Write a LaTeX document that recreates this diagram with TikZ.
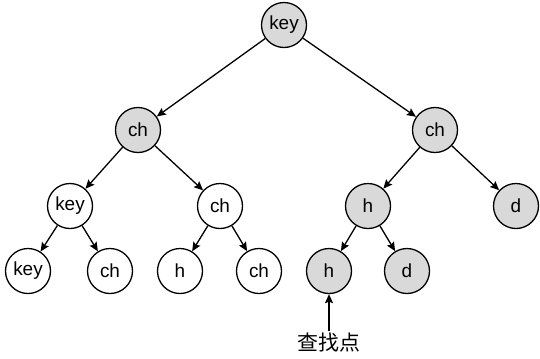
\documentclass[tikz,border=0pt]{standalone}
\usepackage{fontspec}
\setmainfont{Liberation Sans}
\newfontfamily\cjk{Noto Sans CJK SC}
\usetikzlibrary{arrows.meta}
\definecolor{hit}{HTML}{D9D9D9}
\tikzset{
  nd/.style={draw,line width=1.3bp,circle,minimum size=45bp,inner sep=0pt,font=\fontsize{19}{22}\selectfont},
  hnd/.style={nd,fill=hit},
  ar/.style={-{Stealth[length=9bp,width=8bp,inset=1.5bp]},line width=1.3bp},
}

\begin{document}
\begin{tikzpicture}[x=1bp,y=-1bp]
\useasboundingbox (0,0) rectangle (540,358);
% root and first level
\node[hnd] (root) at (284,25) {key};
\node[hnd] (chl) at (138,130) {ch};
\node[hnd] (chr) at (435,130) {ch};
% second level
\node[nd] (k2) at (70,206) {key};
\node[nd] (c2) at (220,206) {ch};
\node[hnd] (h2) at (368,206) {h};
\node[hnd] (d2) at (516,206) {d};
% leaves
\node[nd] (k3) at (28,271) {key};
\node[nd] (c3) at (110,271) {ch};
\node[nd] (h3) at (180,271) {h};
\node[nd] (c4) at (259,271) {ch};
\node[hnd] (h4) at (329,271) {h};
\node[hnd] (d4) at (407,271) {d};
% lookup point
\node[font=\cjk\fontsize{21}{23}\selectfont,inner sep=2bp] (find) at (329,343) {查找点};

\draw[ar] (root) -- (chl);
\draw[ar] (root) -- (chr);
\draw[ar] (chl) -- (k2);
\draw[ar] (chl) -- (c2);
\draw[ar] (chr) -- (h2);
\draw[ar] (chr) -- (d2);
\draw[ar] (k2) -- (k3);
\draw[ar] (k2) -- (c3);
\draw[ar] (c2) -- (h3);
\draw[ar] (c2) -- (c4);
\draw[ar] (h2) -- (h4);
\draw[ar] (h2) -- (d4);
\draw[ar] (find) -- (h4);
\end{tikzpicture}
\end{document}
